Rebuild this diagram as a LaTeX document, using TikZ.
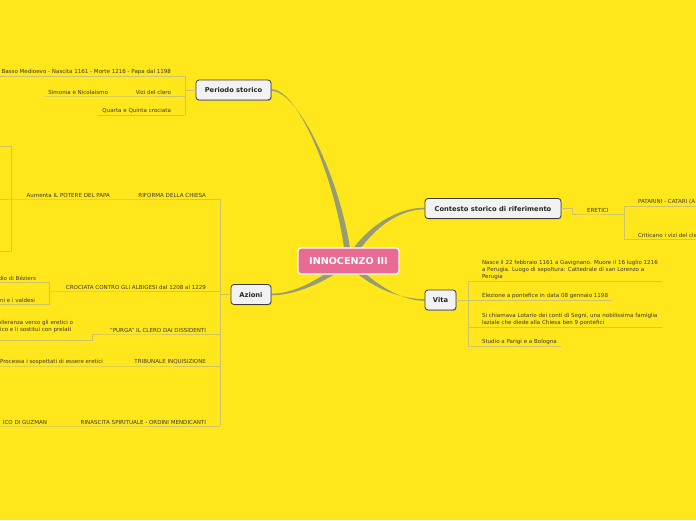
\documentclass[tikz,border=0pt]{standalone}
\usepackage{fontspec}
\setmainfont{DejaVu Sans}
\usetikzlibrary{calc,shadows,backgrounds}
\definecolor{mapyellow}{HTML}{FFE71B}
\definecolor{rootpink}{HTML}{E96A93}
\definecolor{topicgray}{HTML}{F2F2F2}
\definecolor{topicline}{HTML}{3A3A3A}
\definecolor{limbolive}{HTML}{989C72}
\definecolor{twigline}{HTML}{CCC466}
\definecolor{leaftext}{HTML}{3B3A2A}
\tikzset{
  root/.style={
    rectangle, rounded corners=3pt, fill=rootpink, draw=white, line width=1.2pt,
    minimum width=101pt, minimum height=26pt,
    font=\bfseries\fontsize{9.6}{11}\selectfont, text=white
  },
  topic/.style={
    rectangle, rounded corners=3pt, fill=topicgray, draw=topicline, line width=0.8pt,
    minimum height=20pt, inner xsep=2pt,
    font=\bfseries\fontsize{6.7}{8}\selectfont, text=black!85,
    drop shadow={shadow xshift=0.7pt, shadow yshift=-0.9pt, opacity=0.45}
  },
  leaf/.style={inner xsep=4pt, inner ysep=1.8pt, outer sep=0pt, align=left,
    font=\fontsize{5.55}{6.6}\selectfont, text=leaftext},
  lleaf/.style={leaf, anchor=south east},
  rleaf/.style={leaf, anchor=south west},
  twig/.style={draw=twigline, line width=1pt},
  limb/.style={fill=limbolive}
}
\newcommand{\limb}[5]{
  \fill[limb] ($(#1)+(0,0.8)$) .. controls ($(#2)+(0,0.8)$) and ($(#3)+(#5)$) .. ($(#4)+(#5)$)
    -- ($(#4)-(#5)$) .. controls ($(#3)-(#5)$) and ($(#2)-(0,0.8)$) .. ($(#1)-(0,0.8)$) -- cycle;
}

\begin{document}
\begin{tikzpicture}[x=1pt, y=-1pt]
\useasboundingbox (0,0) rectangle (696,520);
\node[root] (inn) at (348.5,261) {INNOCENZO III};
\node[topic, minimum width=75pt] (periodo) at (233.5,90) {Periodo storico};
\node[topic, minimum width=40pt] (azioni) at (251,294.5) {Azioni};
\node[topic, minimum width=136pt] (contesto) at (493,208.5) {Contesto storico di riferimento};
\node[topic, minimum width=31pt] (vita) at (440.5,300) {Vita};
\begin{scope}[on background layer]
\fill[mapyellow] (0,0) rectangle (696,520);
\limb{periodo.east}{300,90}{342,190}{inn.center}{3,0}
\limb{azioni.east}{300,294.5}{330,275}{inn.center}{2,2.5}
\limb{contesto.west}{400,208.5}{370,225}{inn.center}{2.6,1.6}
\limb{vita.west}{400,300}{370,285}{inn.center}{2.2,-2}
\end{scope}

\node[lleaf] (basso) at (175,76) {Basso Medioevo - Nascita 1161 - Morte 1216 - Papa dal 1198};
\node[lleaf] (vizi) at (175,96) {Vizi del clero};
\node[lleaf] (simonia) at (112,96) {Simonia e Nicolaismo};
\node[lleaf] (quarta) at (175,115) {Quarta e Quinta crociata};
\coordinate (pbr) at (185,90);
\draw[twig] (periodo.west) -- (pbr);
\draw[twig] (basso.south -| pbr) -- (quarta.south -| pbr);
\draw[twig] (basso.south west) -- (basso.south -| pbr);
\draw[twig] (simonia.south west) -- (vizi.south west) -- (vizi.south -| pbr);
\draw[twig] (quarta.south west) -- (quarta.south -| pbr);

\coordinate (abr) at (220,294.5);
\node[lleaf] (riforma) at (210,199) {RIFORMA DELLA CHIESA};
\node[lleaf] (aumenta) at (114,199) {Aumenta IL POTERE DEL PAPA};
\coordinate (aubr) at (11,199);
\coordinate (pot1) at (-10,146);
\coordinate (pot2) at (-10,199);
\coordinate (pot3) at (-10,251);
\draw[twig] (pot1) -- (pot1 -| aubr) -- (pot3 -| aubr) -- (pot3);
\draw[twig] (pot2) -- (aumenta.south west) -- (riforma.south west) -- (riforma.south -| abr);

\node[lleaf] (crociata) at (210,291) {CROCIATA CONTRO GLI ALBIGESI dal 1208 al 1229};
\node[lleaf] (beziers) at (40,282) {dio di Béziers};
\node[lleaf] (valdesi) at (39,304) {ni e i valdesi};
\coordinate (cbr) at (49,291);
\draw[twig] (beziers.south west) -- (beziers.south -| cbr) -- (valdesi.south -| cbr) -- (valdesi.south west);
\draw[twig] (cbr) -- (crociata.south west) -- (crociata.south -| abr);

\node[lleaf] (purga) at (210,334) {"PURGA" IL CLERO DAI DISSIDENTI};
\node[lleaf, inner ysep=7.6pt] (tolleranza) at (77,340) {olleranza verso gli eretici o\\rico e li sostituì con prelati};
\coordinate (pgbr) at (92,334);
\draw[twig] (tolleranza.south west) -- (tolleranza.south -| pgbr) -- (pgbr) -- (purga.south west) -- (purga.south -| abr);

\node[lleaf] (tribunale) at (210,366) {TRIBUNALE INQUISIZIONE};
\node[lleaf] (processa) at (107,366) {Processa i sospettati di essere eretici};
\draw[twig] (processa.south west) -- (tribunale.south west) -- (tribunale.south -| abr);

\node[lleaf] (rinascita) at (210,426) {RINASCITA SPIRITUALE - ORDINI MENDICANTI};
\node[lleaf] (guzman) at (51,426) {ICO DI GUZMAN};
\draw[twig] (guzman.south west) -- (rinascita.south west) -- (rinascita.south -| abr);
\draw[twig] (riforma.south -| abr) -- (rinascita.south -| abr);
\draw[twig] (azioni.west) -- (abr);

\node[rleaf] (eretici) at (583,214) {ERETICI};
\coordinate (ck) at (572,208.5);
\coordinate (ebr) at (624,214);
\coordinate (rim) at (700,0);
\draw[twig] (contesto.east) -- (ck) |- (eretici.south west) -- (eretici.south -| ebr);
\node[rleaf] (patarini) at (634,206) {PATARINI - CATARI (A};
\node[rleaf] (criticano) at (634,239) {Criticano i vizi del cle};
\draw[twig] (patarini.south -| rim) -- (patarini.south -| ebr) -- (criticano.south -| ebr) -- (criticano.south -| rim);

\coordinate (vbr) at (468,300);
\node[rleaf] (nasce) at (478,281) {Nasce il 22 febbraio 1161 a Gavignano. Muore il 16 luglio 1216\\a Perugia. Luogo di sepoltura: Cattedrale di san Lorenzo a\\Perugia};
\node[rleaf] (elezione) at (478,300) {Elezione a pontefice in data 08 gennaio 1198};
\node[rleaf] (lotario) at (478,327) {Si chiamava Lotario dei conti di Segni, una nobilissima famiglia\\laziale che diede alla Chiesa ben 9 pontefici};
\node[rleaf] (studio) at (478,346) {Studio a Parigi e a Bologna};
\draw[twig] (vita.east) -- (vbr);
\draw[twig] (nasce.south -| vbr) -- (studio.south -| vbr);
\draw[twig] (nasce.south -| vbr) -- (nasce.south east);
\draw[twig] (elezione.south -| vbr) -- (elezione.south east);
\draw[twig] (lotario.south -| vbr) -- (lotario.south east);
\draw[twig] (studio.south -| vbr) -- (studio.south east);
\end{tikzpicture}
\end{document}
